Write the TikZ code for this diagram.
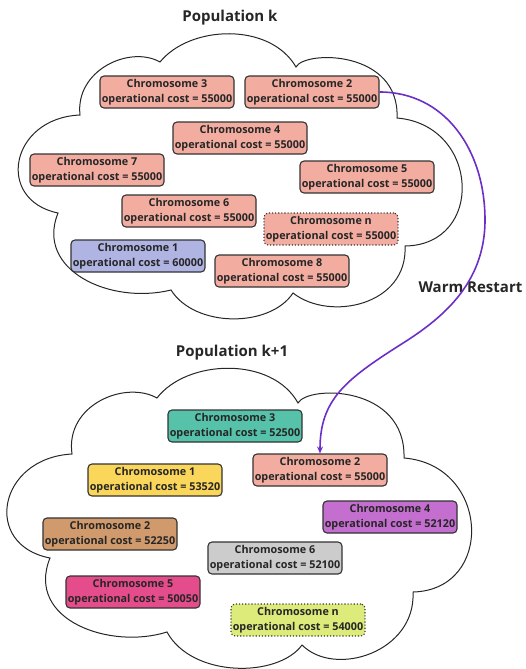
\documentclass[tikz,border=0pt]{standalone}
\usepackage{fontspec}
\setmainfont{Open Sans}
\usetikzlibrary{arrows.meta}
\definecolor{salmon}{HTML}{F2ADA0}
\definecolor{lblue}{HTML}{B0B4E2}
\definecolor{teal1}{HTML}{56C2AA}
\definecolor{yell}{HTML}{FAD65A}
\definecolor{purp}{HTML}{C46FD0}
\definecolor{brwn}{HTML}{D09A6C}
\definecolor{pnk}{HTML}{E54C8C}
\definecolor{gry}{HTML}{CCCCCC}
\definecolor{lime1}{HTML}{DDEB7A}
\definecolor{arrowc}{HTML}{6B2FC8}
\definecolor{edge}{HTML}{333333}
\tikzset{
  chrom/.style={draw=edge, line width=1.1pt, rounded corners=4pt, minimum width=134pt, minimum height=32pt, inner sep=0.5pt, align=center, font=\fontsize{10.8}{14.5}\selectfont\bfseries, text=black!85},
  dotbox/.style={chrom, dotted},
  cloudline/.style={draw=black!85, line width=1pt},
  title/.style={font=\fontsize{15}{17}\selectfont\bfseries, text=black!85},
}
\begin{document}
\begin{tikzpicture}[x=1pt,y=-1pt]
\useasboundingbox (0,0) rectangle (525,669);
% top cloud
\draw[cloudline] (160,62) .. controls (190,25) and (270,22) .. (296,67)
  .. controls (305,50) and (400,50) .. (397,118)
  .. controls (480,125) and (485,245) .. (405,246)
  .. controls (408,305) and (330,322) .. (293,293)
  .. controls (270,328) and (195,328) .. (171,290)
  .. controls (110,305) and (35,270) .. (58,213)
  .. controls (-5,200) and (10,118) .. (80,115)
  .. controls (75,70) and (130,45) .. (160,62) -- cycle;
% bottom cloud
\draw[cloudline] (157,398) .. controls (187,359) and (272,356) .. (298,403)
  .. controls (308,385) and (406,385) .. (404,458)
  .. controls (490,465) and (495,590) .. (413,592)
  .. controls (416,652) and (335,678) .. (302,645)
  .. controls (278,678) and (192,678) .. (167,632)
  .. controls (110,650) and (25,620) .. (50,558)
  .. controls (-18,545) and (-2,458) .. (72,454)
  .. controls (65,405) and (125,380) .. (157,398) -- cycle;
\node[title] (t1) at (230,18) {Population k};
\node[title] (t2) at (232,353) {Population k+1};
\node[title, anchor=west] (wr) at (415,287) {Warm Restart};
% top chromosomes
\node[chrom, fill=salmon] (a3) at (167,92) {Chromosome 3\\operational cost = 55000};
\node[chrom, fill=salmon] (a2) at (312,92) {Chromosome 2\\operational cost = 55000};
\node[chrom, fill=salmon] (a4) at (240,138) {Chromosome 4\\operational cost = 55000};
\node[chrom, fill=salmon] (a7) at (97,170) {Chromosome 7\\operational cost = 55000};
\node[chrom, fill=salmon] (a5) at (367,177) {Chromosome 5\\operational cost = 55000};
\node[chrom, fill=salmon] (a6) at (189,211) {Chromosome 6\\operational cost = 55000};
\node[dotbox, fill=salmon] (an) at (331,229) {Chromosome n\\operational cost = 55000};
\node[chrom, fill=lblue] (a1) at (138,256) {Chromosome 1\\operational cost = 60000};
\node[chrom, fill=salmon] (a8) at (282,271) {Chromosome 8\\operational cost = 55000};
% bottom chromosomes
\node[chrom, fill=teal1] (b3) at (235,426) {Chromosome 3\\operational cost = 52500};
\node[chrom, fill=salmon] (b2) at (320,470) {Chromosome 2\\operational cost = 55000};
\node[chrom, fill=yell] (b1) at (155,480) {Chromosome 1\\operational cost = 53520};
\node[chrom, fill=purp] (b4) at (390,517) {Chromosome 4\\operational cost = 52120};
\node[chrom, fill=brwn] (b2b) at (110,534) {Chromosome 2\\operational cost = 52250};
\node[chrom, fill=gry] (b6) at (275,558) {Chromosome 6\\operational cost = 52100};
\node[chrom, fill=pnk] (b5) at (133,592) {Chromosome 5\\operational cost = 50050};
\node[dotbox, fill=lime1] (bn) at (298,620) {Chromosome n\\operational cost = 54000};
% warm restart arrow
\coordinate (m1) at (485,220);
\coordinate (m2) at (400,345);
\draw[arrowc, line width=1.6pt, -{Stealth[length=7pt,width=6pt]}]
  (a2.east) .. controls (445,92) and (485,150) .. (m1)
  .. controls (485,285) and (440,320) .. (m2)
  .. controls (345,380) and (320,400) .. (b2.north);
\end{tikzpicture}
\end{document}
